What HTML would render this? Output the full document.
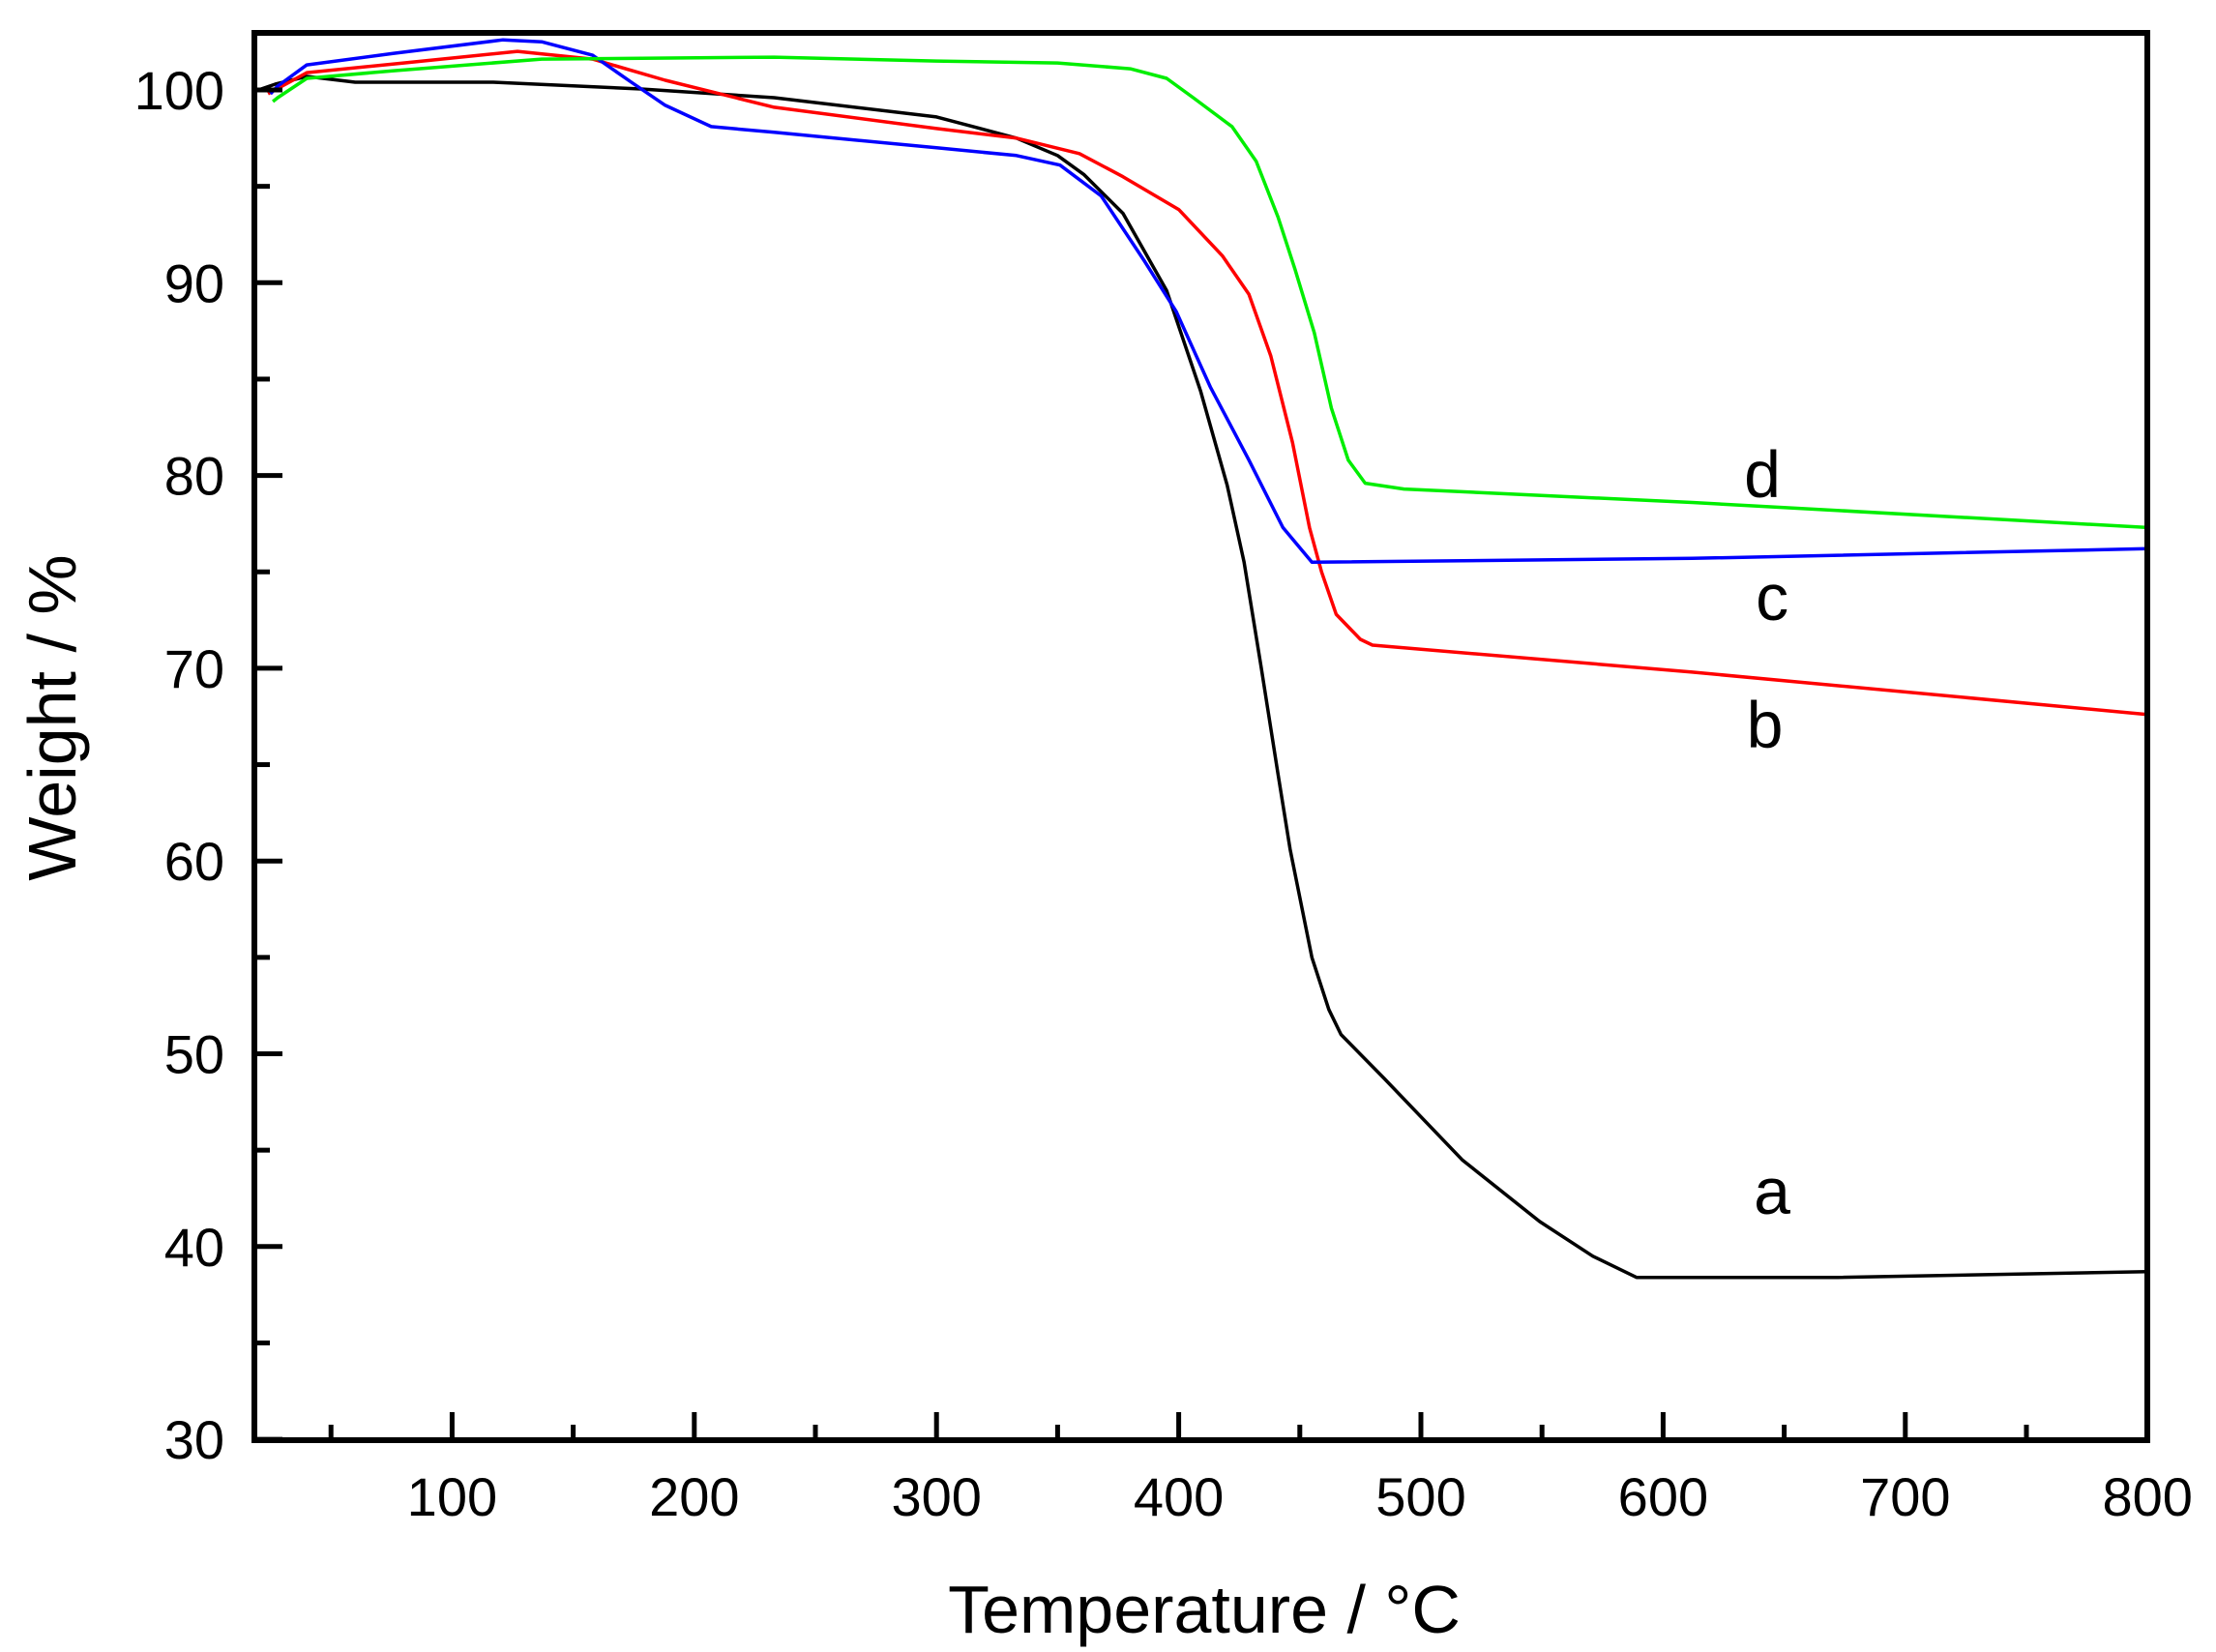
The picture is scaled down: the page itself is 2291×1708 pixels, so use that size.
<!DOCTYPE html>
<html><head><meta charset="utf-8"><style>
html,body{margin:0;padding:0;background:#fff}
svg{display:block}
text{font-family:"Liberation Sans",Arial,sans-serif;fill:#000}
</style></head><body>
<svg id="chart" width="2291" height="1708" viewBox="0 0 2291 1708">
<g id="plot"></g>
<g id="axes"></g>
<text x="1245" y="1688" font-size="70" text-anchor="middle">Temperature / °C</text>
<text transform="translate(78,742) rotate(-90)" font-size="70" text-anchor="middle">Weight / %</text>
</svg>
<script>
const xTicks=[100,200,300,400,500,600,700,800];
const yTicks=[30,40,50,60,70,80,90,100];
const seriesNames=['a','b','c','d'];
const seriesColors=['#000000','#ff0000','#0000ff','#00ee00'];
const tA=[20,27,40,60,117,178,233,300,333,350,361,377,395,409,420,427,434,441,446,455,462,467,485,517,549,571,589,672,800];
const wA=[100,100.3,100.7,100.4,100.4,100.05,99.6,98.6,97.5,96.6,95.6,93.6,89.6,84.4,79.5,75.5,70.1,64.5,60.6,55,52.3,51,48.7,44.5,41.3,39.5,38.4,38.4,38.7];
const tB=[24,40,80,127,158,188,233,300,333,359,377,400,418,429,438,447,454,459,465,475,480,612,800];
const wB=[99.8,100.9,101.4,102.0,101.6,100.5,99.1,98,97.5,96.7,95.5,93.8,91.4,89.4,86.2,81.7,77.3,75,72.8,71.5,71.2,69.8,67.6];
const tC=[25,28,40,76,121,137,158,174,188,207,233,300,333,351,368,386,399,413,429,443,455,612,800];
const wC=[99.8,100.2,101.3,101.9,102.6,102.5,101.8,100.4,99.2,98.1,97.8,97.0,96.6,96.1,94.5,91.1,88.5,84.6,80.8,77.3,75.5,75.7,76.2];
const tD=[26,28,40,76,137,233,300,350,380,395,406,422,432,441,448,456,463,470,477,493,612,800];
const wD=[99.4,99.6,100.6,101.0,101.6,101.7,101.5,101.4,101.1,100.6,99.6,98.1,96.3,93.4,90.7,87.4,83.5,80.8,79.6,79.3,78.6,77.3];
const labelT=[645,642,645,641];
const labelW=[41.7,65.9,72.5,78.9];

const X0=263,X1=2220,Y0=1489,Y1=34;
function sx(t){return 217+t*2.504;}
function sy(w){return 93+(100-w)*19.93;}
const NS='http://www.w3.org/2000/svg';
const plot=document.getElementById('plot'),axes=document.getElementById('axes');
function mk(tag,attrs,parent){const e=document.createElementNS(NS,tag);for(const k in attrs)e.setAttribute(k,attrs[k]);parent.appendChild(e);return e;}
const data=[[tA,wA],[tB,wB],[tC,wC],[tD,wD]];
data.forEach((s,i)=>{
  const d=s[0].map((t,j)=>(j?'L':'M')+sx(t).toFixed(1)+','+sy(s[1][j]).toFixed(1)).join(' ');
  const p=mk('path',{d:d,fill:'none',stroke:seriesColors[i],'stroke-width':3.5,'stroke-linejoin':'round'},plot);
  
  
  const l=mk('text',{x:sx(labelT[i]),y:sy(labelW[i]),'font-size':68,'text-anchor':'middle'},plot);
  l.textContent=seriesNames[i];
  
  
});
const frame=mk('rect',{x:X0,y:Y1,width:X1-X0,height:Y0-Y1,fill:'none',stroke:'#000','stroke-width':6},axes);


xTicks.forEach(t=>{
  const x=sx(t);
  const tk=mk('line',{x1:x,x2:x,y1:Y0,y2:Y0-29,stroke:'#000','stroke-width':5},axes);
  
  
  const lb=mk('text',{x:x,y:1567,'font-size':56,'text-anchor':'middle'},axes);
  lb.textContent=t;
  
  
  const xm=sx(t-50);
  if(xm>X0+5){
    const mt=mk('line',{x1:xm,x2:xm,y1:Y0,y2:Y0-16,stroke:'#000','stroke-width':5},axes);
    
    
  }
});
yTicks.forEach(w=>{
  const y=sy(w);
  const tk=mk('line',{x1:X0,x2:X0+29,y1:y,y2:y,stroke:'#000','stroke-width':5},axes);
  
  
  const lb=mk('text',{x:232,y:y+20,'font-size':56,'text-anchor':'end'},axes);
  lb.textContent=w;
  
  
  if(w<100){
    const ym=sy(w+5);
    const mt=mk('line',{x1:X0,x2:X0+16,y1:ym,y2:ym,stroke:'#000','stroke-width':5},axes);
    
    
  }
});
</script>
</body></html>
